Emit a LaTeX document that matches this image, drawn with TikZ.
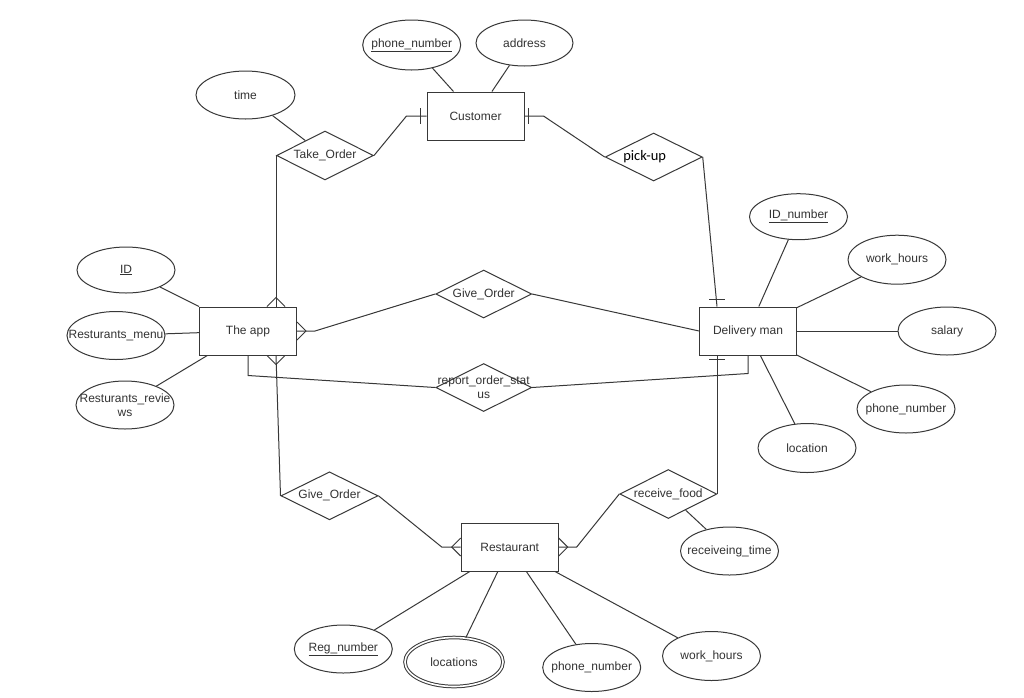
\documentclass[tikz,border=0pt]{standalone}
\usepackage{fontspec}
\setmainfont{Liberation Sans}
\newfontfamily\calfont{Carlito}
\usetikzlibrary{shapes.geometric,calc}
\definecolor{ln}{HTML}{383838}
\definecolor{tx}{HTML}{333333}
\newcommand\crowup[1]{\draw ([xshift=-9pt]#1) -- ([yshift=9pt]#1) -- ([xshift=9pt]#1);}
\newcommand\crowdown[1]{\draw ([xshift=-9pt]#1) -- ([yshift=-9pt]#1) -- ([xshift=9pt]#1);}
\newcommand\crowleft[1]{\draw ([yshift=9pt]#1) -- ([xshift=-9pt]#1) -- ([yshift=-9pt]#1);}
\newcommand\crowright[1]{\draw ([yshift=9pt]#1) -- ([xshift=9pt]#1) -- ([yshift=-9pt]#1);}
\begin{document}
\begin{tikzpicture}[x=1pt,y=-1pt,line width=1pt,draw=ln,
  lbl/.style={font=\fontsize{12}{14}\selectfont,text=tx,inner sep=0pt,align=center},
  every label/.style={lbl},
  ent/.style={draw,rectangle,minimum width=97pt,minimum height=48pt,inner sep=0pt},
  attr/.style={draw,ellipse,minimum width=98pt,minimum height=48pt,inner sep=0pt},
  rel/.style={draw,diamond,minimum width=97pt,minimum height=48pt,inner sep=0pt}]
\useasboundingbox[fill=white] (0,0) rectangle (1024,697);

% entities
\node[ent,label={center:Customer}] (cust) at (475.5,116) {};
\node[ent,label={center:The app}] (app) at (248,331) {};
\node[ent,label={center:Delivery man}] (dm) at (748,331) {};
\node[ent,label={center:Restaurant}] (rest) at (509.7,547) {};

% relationships
\node[rel,minimum height=49pt,label={center:Take\_Order}] (to) at (325,155.5) {};
\node[rel,label={[font=\calfont\fontsize{14.5}{16}\selectfont,text=black]center:pick-up\hspace{18pt}}] (pu) at (653.7,157) {};
\node[rel,minimum width=96pt,label={center:Give\_Order}] (go1) at (483.7,294) {};
\node[rel,minimum width=96pt,label={center:report\_order\_stat\\us}] (rep) at (483.7,387.5) {};
\node[rel,label={center:Give\_Order}] (go2) at (329.5,495.8) {};
\node[rel,minimum height=49pt,label={center:receive\_food}] (rf) at (668.3,494) {};

% attributes
\node[attr,minimum height=50pt,label={center:\underline{phone\_number}}] (cph) at (411.7,45) {};
\node[attr,minimum width=97pt,minimum height=46pt,label={center:address}] (cadd) at (524.5,43) {};
\node[attr,minimum width=99pt,label={center:time}] (time) at (245.5,95) {};
\node[attr,minimum height=46pt,label={center:\underline{ID}}] (id) at (126,270) {};
\node[attr,label={center:Resturants\_menu}] (menu) at (116,335.5) {};
\node[attr,label={center:Resturants\_revie\\ws}] (rev) at (125,405) {};
\node[attr,minimum height=46pt,label={center:\underline{ID\_number}}] (dmid) at (798.5,216.7) {};
\node[attr,minimum height=49pt,label={center:work\_hours}] (dmwh) at (897,259.7) {};
\node[attr,label={center:salary}] (sal) at (947,331) {};
\node[attr,label={center:phone\_number}] (dmph) at (906,409) {};
\node[attr,minimum height=49pt,label={center:location}] (loc) at (807,448) {};
\node[attr,label={center:receiveing\_time}] (rt) at (729.5,551) {};
\node[attr,label={center:\underline{Reg\_number}}] (reg) at (343.3,649) {};
\node[attr,minimum height=49pt,double,double distance=1.6pt,label={center:locations}] (locs) at (454,662) {};
\node[attr,label={center:phone\_number}] (rph) at (591.7,667.5) {};
\node[attr,minimum height=49pt,label={center:work\_hours}] (rwh) at (711.5,656) {};

% attribute links
\draw (cph) -- (cust);
\draw (cadd) -- (cust);
\draw (time) -- (to);
\draw (id) -- (app);
\draw (menu) -- (app);
\draw (rev) -- (app);
\draw (dmid) -- (dm);
\draw (dmwh) -- (dm);
\draw (sal) -- (dm);
\draw (dmph) -- (dm);
\draw (loc) -- (dm);
\draw (rt) -- (rf);
\draw (reg) -- (rest);
\draw (locs) -- (rest);
\draw (rph) -- (rest);
\draw (rwh) -- (rest);

% relationship links
\coordinate (appT) at (to.west |- app.north);
\coordinate (appB) at (to.west |- app.south);
\coordinate (dmT) at ([xshift=18pt]dm.north west);
\coordinate (dmB) at (rf.east |- dm.south);

% Take_Order
\draw (to.east) -- ([xshift=-20pt]cust.west) -- (cust.west);
\draw ([xshift=-6pt,yshift=8pt]cust.west) -- ([xshift=-6pt,yshift=-8pt]cust.west);
\draw (to.west) -- (appT);
\crowup{appT}

% pick-up
\draw (cust.east) -- ([xshift=19pt]cust.east) -- (pu.west);
\draw ([xshift=4pt,yshift=8pt]cust.east) -- ([xshift=4pt,yshift=-8pt]cust.east);
\draw (pu.east) -- (dmT);
\draw ([xshift=-8pt,yshift=7pt]dmT) -- ([xshift=8pt,yshift=7pt]dmT);

% Give_Order (middle)
\draw (app.east) -- ([xshift=18pt]app.east) -- (go1.west);
\crowright{app.east}
\draw (go1.east) -- (dm.west);

% report_order_status
\draw (app.south) -- ([yshift=-20pt]app.south) -- (rep.west);
\draw (rep.east) -- ([yshift=-18pt]dm.south) -- (dm.south);

% Give_Order (lower)
\draw (appB) -- (go2.west);
\crowdown{appB}
\draw (go2.east) -- ([xshift=-19pt]rest.west) -- (rest.west);
\crowleft{rest.west}

% receive_food
\draw (rest.east) -- ([xshift=18pt]rest.east) -- (rf.west);
\crowright{rest.east}
\draw (rf.east) -- (dmB);
\draw ([xshift=-8pt,yshift=-4pt]dmB) -- ([xshift=8pt,yshift=-4pt]dmB);
\end{tikzpicture}
\end{document}
